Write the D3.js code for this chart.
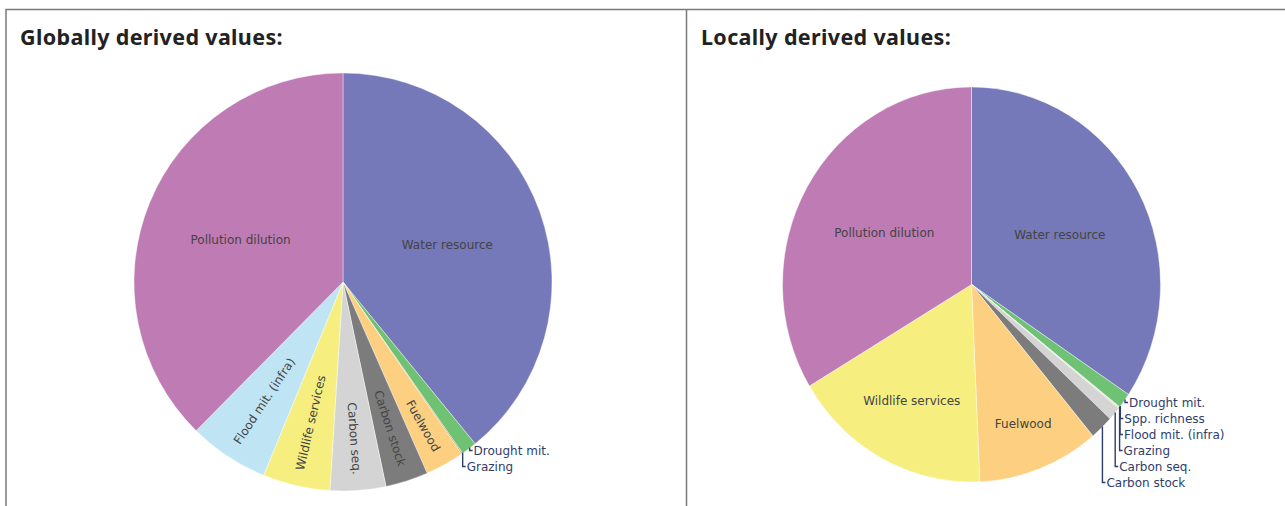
<!DOCTYPE html>
<html>
<head>
<meta charset="utf-8">
<script src="https://cdn.jsdelivr.net/npm/d3@7"></script>
<style>
  body { margin: 0; background: #fff; }
  svg { display: block; }
</style>
</head>
<body>
<svg width="1285" height="506"></svg>
<script>
// values (share of total value, %)
var globalNames = ["Water resource", "Drought mit.", "Grazing", "Fuelwood", "Carbon stock",
    "Carbon seq.", "Wildlife services", "Flood mit. (infra)", "Pollution dilution"];
var globalValues = [39.1, 1.2, 0.1, 3.0, 3.3, 4.3, 5.2, 6.2, 37.6];

var localNames = ["Water resource", "Drought mit.", "Spp. richness", "Flood mit. (infra)", "Grazing",
    "Carbon seq.", "Carbon stock", "Fuelwood", "Wildlife services", "Pollution dilution"];
var localValues = [34.4, 1.25, 0.05, 0.05, 0.05, 1.1, 2.0, 10.4, 17.1, 33.6];

var titles = ["Globally derived values:", "Locally derived values:"];

var colors = {
    "Water resource": "#7578b9",
    "Pollution dilution": "#be7bb4",
    "Flood mit. (infra)": "#bfe4f4",
    "Wildlife services": "#f6ef80",
    "Carbon seq.": "#d4d4d4",
    "Carbon stock": "#7c7c7c",
    "Fuelwood": "#fdcf80",
    "Drought mit.": "#6fc273",
    "Grazing": "#c9a26b",
    "Spp. richness": "#9ed0a8"
};

var svg = d3.select('svg');
var lineColor = "#7a7a7a";
var calloutColor = "#2f3d6a";
var labelFont = "'DejaVu Sans', sans-serif";

// panel frame
svg.append("path")
    .attr("d", "M6,506 V9.5 H1285 M686.5,9.5 V506")
    .attr("fill", "none")
    .attr("stroke", lineColor)
    .attr("stroke-width", 1.5);

svg.selectAll("text.title")
    .data(titles)
    .enter()
    .append("text")
    .attr("class", "title")
    .attr("x", function(d, i) { return i == 0 ? 20 : 701; })
    .attr("y", 45)
    .attr("font-family", "'Noto Sans', sans-serif")
    .attr("font-weight", 700)
    .attr("font-size", 21.5)
    .attr("letter-spacing", 0.35)
    .attr("fill", "#222")
    .text(function(d) { return d; });

function drawPie(names, values, opts) {
    var data = names.map(function(n, i) { return { name: n, value: values[i] }; });
    var total = d3.sum(values);
    var arcs = d3.pie().sort(null).value(function(d) { return d.value; })(data);
    var r = opts.r;
    var sy = opts.ry / opts.r;

    var g = svg.append("g")
        .attr("transform", "translate(" + opts.cx + "," + opts.cy + ") scale(1," + sy + ")");

    var arc = d3.arc().innerRadius(0).outerRadius(r);

    g.selectAll("path")
        .data(arcs)
        .enter()
        .append("path")
        .attr("d", arc)
        .attr("fill", function(d) { return colors[d.data.name]; })
        .attr("stroke", "#fff")
        .attr("stroke-width", 0.4);

    var lg = svg.append("g")
        .attr("transform", "translate(" + opts.cx + "," + opts.cy + ")");

    var callY = -Infinity;
    arcs.forEach(function(d) {
        var share = d.data.value / total;
        var a = (d.startAngle + d.endAngle) / 2;
        var sx = Math.sin(a), cy = -Math.cos(a);

        if (share < 0.025) {
            // outside label with bracket line
            var ax = sx * (r + 1), ay = cy * (r + 1) * sy;
            var ly = Math.max(ay + 1, callY + 16);
            callY = ly;
            lg.append("path")
                .attr("d", "M" + ax + "," + (ay - 2) + " V" + ly + " H" + (ax + 3))
                .attr("fill", "none")
                .attr("stroke", calloutColor)
                .attr("stroke-width", 1.4);
            lg.append("text")
                .attr("x", ax + 4)
                .attr("y", ly)
                .attr("dy", "0.35em")
                .attr("font-family", labelFont)
                .attr("font-size", 12)
                .attr("fill", calloutColor)
                .text(d.data.name);
        } else if (share < 0.3 && opts.radial) {
            var t = lg.append("text")
                .attr("text-anchor", "middle")
                .attr("dy", "0.35em")
                .attr("font-family", labelFont)
                .attr("font-size", 12)
                .attr("fill", "#444")
                .text(d.data.name);
            var len = t.node().getComputedTextLength();
            var dist = r - 16 - len / 2;
            var rot = a * 180 / Math.PI - 90;
            if (rot > 90) rot -= 180;
            t.attr("transform", "translate(" + (sx * dist) + "," + (cy * dist * sy) + ") rotate(" + rot + ")");
        } else {
            var frac = share > 0.3 ? 0.53 : 0.5 + (0.3 - share) * 1.3;
            lg.append("text")
                .attr("x", sx * r * frac)
                .attr("y", cy * r * frac * sy)
                .attr("dy", "0.35em")
                .attr("text-anchor", "middle")
                .attr("font-family", labelFont)
                .attr("font-size", 12)
                .attr("fill", "#444")
                .text(d.data.name);
        }
    });
}

drawPie(globalNames, globalValues, { cx: 343, cy: 282, r: 209, ry: 209, radial: true });
drawPie(localNames, localValues, { cx: 971.5, cy: 284.5, r: 189, ry: 197.5, radial: false });
</script>
</body>
</html>
